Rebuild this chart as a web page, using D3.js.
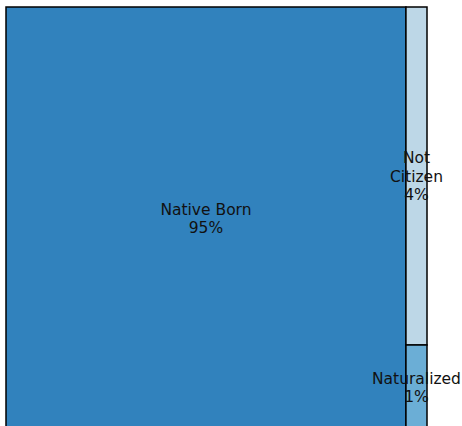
<!DOCTYPE html>
<html><head><meta charset="utf-8">
<script src="https://cdn.jsdelivr.net/npm/d3@7"></script>
<style>body{margin:0;background:#fff;} svg{display:block;}</style>
</head><body>
<svg id="c" width="462" height="426"></svg>
<script>
const categories = ["Native Born", "Not Citizen", "Naturalized"];
const values = [95, 4, 1];
const labels = ["95%", "4%", "1%"];
const colors = ["#3182bd", "#bdd7e7", "#6baed6"];

const svg = d3.select("#c");
const W = 421, H = 422.5;
const g = svg.append("g").attr("transform", "translate(6,7)");

const leafData = categories.map((c, i) => ({name: c, value: values[i], label: labels[i], color: colors[i]}));
const tree = {children: [leafData[0], {children: leafData.slice(1)}]};
const root = d3.hierarchy(tree).sum(d => d.value || 0);
d3.treemap().size([W, H])
  .tile((node, x0, y0, x1, y1) => node.depth === 0
    ? d3.treemapDice(node, x0, y0, x1, y1)
    : d3.treemapSlice(node, x0, y0, x1, y1))(root);

const leaves = root.leaves();
g.selectAll("rect").data(leaves).join("rect")
  .attr("x", d => d.x0).attr("y", d => d.y0)
  .attr("width", d => d.x1 - d.x0).attr("height", d => d.y1 - d.y0)
  .attr("fill", d => d.data.color)
  .attr("stroke", "#000").attr("stroke-width", 1.5);

const lines = d => d.data.name === "Not Citizen"
  ? ["Not", "Citizen", d.data.label]
  : [d.data.name, d.data.label];
g.selectAll("text").data(leaves).join("text")
  .attr("text-anchor", "middle")
  .attr("font-family", "DejaVu Sans, sans-serif")
  .attr("font-size", 15.5)
  .attr("fill", "#111")
  .each(function(d) {
    const ls = lines(d);
    const cx = (d.x0 + d.x1) / 2, cy = (d.y0 + d.y1) / 2;
    const lh = 18.5;
    const t = d3.select(this);
    ls.forEach((l, i) => {
      t.append("tspan").attr("x", cx)
        .attr("y", cy + (i - (ls.length - 1) / 2) * lh + 5.5)
        .text(l);
    });
  });
</script>
</body></html>
